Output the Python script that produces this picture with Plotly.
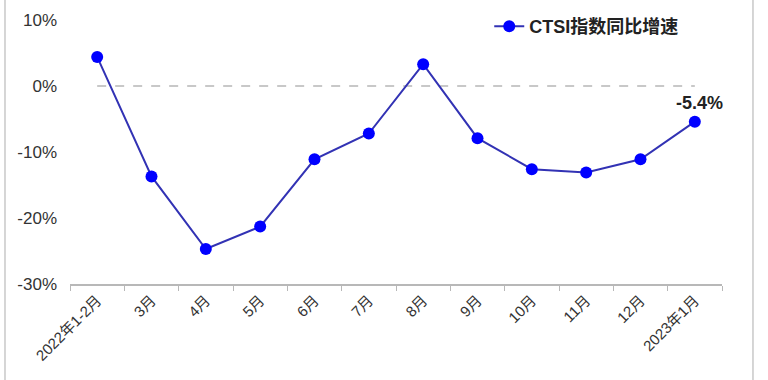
import plotly.graph_objects as go

categories = ["2022年1-2月", "3月", "4月", "5月", "6月", "7月", "8月", "9月",
              "10月", "11月", "12月", "2023年1月"]
values = [4.4, -13.7, -24.7, -21.3, -11.1, -7.2, 3.3, -7.9, -12.6, -13.1, -11.1, -5.4]
series_name = "CTSI指数同比增速"
y_ticks = [10, 0, -10, -20, -30]
y_tick_labels = ["10%", "0%", "-10%", "-20%", "-30%"]

FONT = "Liberation Sans, Arial, Noto Sans CJK SC, sans-serif"

fig = go.Figure()
fig.add_trace(go.Scatter(
    x=categories, y=values, mode="lines+markers", name=series_name,
    line=dict(color="#3232b4", width=2),
    marker=dict(color="#0000ff", size=12, line=dict(width=0)),
))

# zero dashed line
fig.add_shape(type="line", xref="x", yref="y", x0=0, x1=len(categories) - 1, y0=0, y1=0,
              line=dict(color="#c8c8c8", width=2, dash="dash"), layer="below")

# frame lines
for xp in [-0.0997, 1.0475]:
    fig.add_shape(type="line", xref="paper", yref="paper", x0=xp, x1=xp, y0=-0.37, y1=1.08,
                  line=dict(color="#c8c8c8", width=1.5))

fig.add_annotation(x=categories[-1], y=values[-1], text=f"<b>{values[-1]}%</b>",
                   showarrow=False, yshift=19, xshift=5,
                   font=dict(size=18, color="#222", family=FONT))

fig.update_layout(
    width=768, height=380,
    margin=dict(l=70, r=46, t=20, b=96, autoexpand=False),
    paper_bgcolor="white", plot_bgcolor="white",
    font=dict(family=FONT, color="#333"),
    showlegend=True,
    legend=dict(x=0.643, y=1.045, xanchor="left", yanchor="top",
                font=dict(size=18, color="#222", family=FONT, weight="bold"),
                bgcolor="rgba(0,0,0,0)"),
    xaxis=dict(type="category", range=[-0.5, len(categories) - 0.5], automargin=False,
               showline=True, linecolor="#b8b8b8", linewidth=1.5,
               ticks="outside", tickson="boundaries", ticklen=5, tickcolor="#b8b8b8",
               tickangle=-45, tickfont=dict(size=15, color="#333"), showgrid=False),
    yaxis=dict(range=[-30, 10], tickvals=y_ticks, ticktext=y_tick_labels, automargin=False,
               showgrid=False, zeroline=False, showline=False,
               tickfont=dict(size=17, color="#333"), ticks="", ticklabelstandoff=12),
)

fig.write_html("out.html")
